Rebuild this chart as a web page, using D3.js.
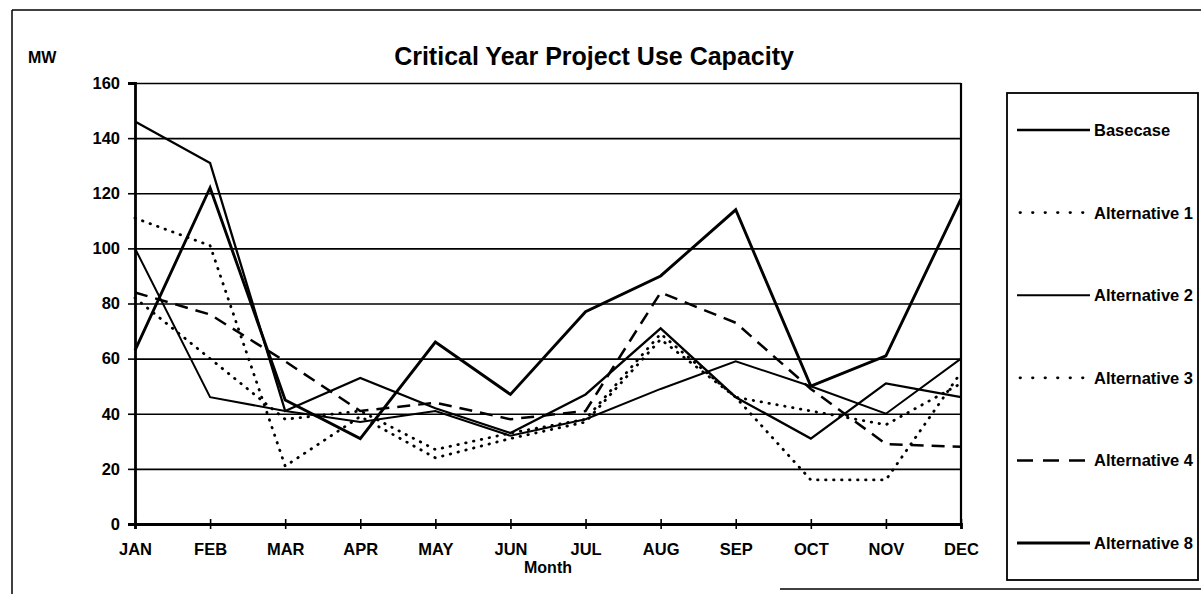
<!DOCTYPE html>
<html>
<head>
<meta charset="utf-8">
<script src="https://cdn.jsdelivr.net/npm/d3@7"></script>
<style>
  html, body { margin: 0; padding: 0; background: #fff; }
  svg { display: block; }
  text { font-family: "Liberation Sans", Arial, sans-serif; font-weight: bold; fill: #000; }
</style>
</head>
<body>
<svg id="chart" width="1201" height="594"></svg>
<script>
// ---- data ----
const months = ["JAN","FEB","MAR","APR","MAY","JUN","JUL","AUG","SEP","OCT","NOV","DEC"];
const yTickValues = [0, 20, 40, 60, 80, 100, 120, 140, 160];
const seriesNames = ["Basecase","Alternative 1","Alternative 2","Alternative 3","Alternative 4","Alternative 8"];
const basecase = [146, 131, 41, 53, 42, 33, 47, 71, 46, 31, 51, 46];
const alt1     = [111, 101, 21, 39, 24, 31, 37, 67, 46, 16, 16, 55];
const alt2     = [100, 46, 41, 37, 41, 32, 38, 49, 59, 50, 40, 60];
const alt3     = [82, 60, 38, 41, 27, 33, 38, 69, 46, 41, 36, 51];
const alt4     = [84, 76, 59, 41, 44, 38, 41, 84, 73, 49, 29, 28];
const alt8     = [63, 122, 45, 31, 66, 47, 77, 90, 114, 50, 61, 118];
const titleText = "Critical Year Project Use Capacity";
const yLabel = "MW";
const xLabel = "Month";

// ---- styles ----
const styles = [
  { w: 2.3, dash: null,     legendDash: null },
  { w: 2.8, dash: "0.5,7.5", legendDash: "0.5,12" },
  { w: 2.0, dash: null,     legendDash: null },
  { w: 2.8, dash: "0.5,7.5", legendDash: "0.5,12" },
  { w: 2.5, dash: "13,8",   legendDash: "16,10" },
  { w: 2.9, dash: null,     legendDash: null }
];
const seriesData = [basecase, alt1, alt2, alt3, alt4, alt8];
const FONT = "'Liberation Sans', Arial, sans-serif";

const svg = d3.select("#chart");
const L = 135, R = 961, T = 83, B = 524;

const x = d3.scalePoint().domain(months).range([L, R]);
const y = d3.scaleLinear().domain([0, 160]).range([B, T]);

// outer frame (scan border)
svg.append("line").attr("x1", 12).attr("x2", 12).attr("y1", 10).attr("y2", 594)
  .attr("stroke", "#000").attr("stroke-width", 1.5);
svg.append("line").attr("x1", 12).attr("x2", 1201).attr("y1", 10).attr("y2", 10)
  .attr("stroke", "#000").attr("stroke-width", 1.5);
svg.append("line").attr("x1", 780).attr("x2", 1201).attr("y1", 589).attr("y2", 589)
  .attr("stroke", "#000").attr("stroke-width", 1.5);

// gridlines
const grid = d3.axisLeft(y).tickValues(yTickValues.filter(v => v > 0)).tickSize(-(R - L)).tickFormat("");
svg.append("g").attr("transform", `translate(${L},0)`).call(grid)
  .call(g => g.select(".domain").remove())
  .call(g => g.selectAll("line").attr("stroke", "#000").attr("stroke-width", 1.7));

// right border
svg.append("line").attr("x1", R).attr("x2", R).attr("y1", T).attr("y2", B)
  .attr("stroke", "#000").attr("stroke-width", 2.2);

// y axis
const yAxis = d3.axisLeft(y).tickValues(yTickValues).tickSize(7).tickPadding(8);
svg.append("g").attr("transform", `translate(${L},0)`).call(yAxis)
  .call(g => g.select(".domain").attr("stroke", "#000").attr("stroke-width", 2.8))
  .call(g => g.selectAll(".tick line").attr("stroke", "#000").attr("stroke-width", 1.6))
  .call(g => g.selectAll("text").style("font-size", "16.5px").style("font-family", FONT).style("font-weight", "bold"));

// x axis
const xAxis = d3.axisBottom(x).tickSize(5).tickPadding(14);
svg.append("g").attr("transform", `translate(0,${B})`).call(xAxis)
  .call(g => g.select(".domain").attr("stroke", "#000").attr("stroke-width", 2.8))
  .call(g => g.selectAll(".tick line").attr("y1", -5).attr("stroke", "#000").attr("stroke-width", 1.6))
  .call(g => g.selectAll("text").style("font-size", "16.5px").style("font-family", FONT).style("font-weight", "bold"));

// series lines
const line = d3.line().x((d, i) => x(months[i])).y(d => y(d));
seriesData.forEach((vals, k) => {
  const dotted = styles[k].dash && styles[k].dash.startsWith("0.5");
  svg.append("path").datum(vals)
    .attr("d", line)
    .attr("fill", "none")
    .attr("stroke", "#000")
    .attr("stroke-width", styles[k].w)
    .attr("stroke-linejoin", "miter")
    .attr("stroke-linecap", dotted ? "round" : "butt")
    .attr("stroke-dasharray", styles[k].dash);
});

// title & axis labels
svg.append("text").attr("x", 594).attr("y", 65).attr("text-anchor", "middle")
  .style("font-size", "25px").text(titleText);
svg.append("text").attr("x", 28).attr("y", 63).style("font-size", "16px").text(yLabel);
svg.append("text").attr("x", (L + R) / 2).attr("y", 573).attr("text-anchor", "middle")
  .style("font-size", "16px").text(xLabel);

// legend
svg.append("rect").attr("x", 1007).attr("y", 93).attr("width", 191).attr("height", 487)
  .attr("fill", "none").attr("stroke", "#000").attr("stroke-width", 1.8);
const legendY = d3.scalePoint().domain(seriesNames).range([130, 543]);
seriesNames.forEach((name, k) => {
  const ly = legendY(name);
  const dotted = styles[k].legendDash && styles[k].legendDash.startsWith("0.5");
  svg.append("line").attr("x1", dotted ? 1020 : 1017).attr("x2", 1090).attr("y1", ly).attr("y2", ly)
    .attr("stroke", "#000").attr("stroke-width", styles[k].w)
    .attr("stroke-linecap", dotted ? "round" : "butt")
    .attr("stroke-dasharray", styles[k].legendDash);
  svg.append("text").attr("x", 1094).attr("y", ly + 6).style("font-size", "16.5px").text(name);
});
</script>
</body>
</html>
